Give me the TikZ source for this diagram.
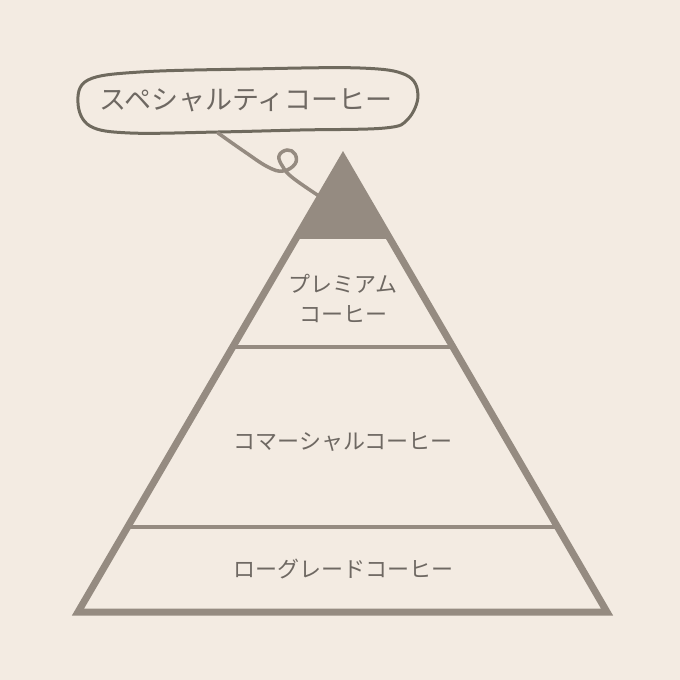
\documentclass[tikz,border=0pt]{standalone}
\usepackage{fontspec}
\usepackage{xcolor}
\usetikzlibrary{positioning, calc}
\newfontfamily\jpfont{Noto Sans CJK JP}
\definecolor{paper}{HTML}{F3EBE2}
\definecolor{stone}{HTML}{958B81}
\definecolor{ink}{HTML}{6E6862}
\definecolor{pen}{HTML}{6F6A5E}

\begin{document}
\begin{tikzpicture}[x=1pt, y=-1pt,
    layer/.style={text=ink, font=\jpfont\fontsize{22}{30}\selectfont, align=center},
    bubble/.style={text=ink, font=\jpfont\fontsize{27}{30}\selectfont}]
\useasboundingbox[fill=paper] (0,0) rectangle (680,680);

% Pyramid
\coordinate (apex) at (343,158);
\coordinate (bl) at (78,612);
\coordinate (br) at (607,612);
\fill[stone] (apex) -- (296,237) -- (390,237) -- cycle;
\draw[stone, line width=7pt, line join=miter] (apex) -- (br) -- (bl) -- cycle;
\draw[stone, line width=4pt] (296,237) -- (390,237);
\draw[stone, line width=4pt] (232,347) -- (454,347);
\draw[stone, line width=4pt] (127.5,527) -- (558.5,527);

% Layers
\node[layer] (premium) at (343,298) {プレミアム\\コーヒー};
\node[layer] (commercial) at (343,442) {コマーシャルコーヒー};
\node[layer] (lowgrade) at (343,569) {ローグレードコーヒー};

% Speech bubble
\node[bubble] (special) at (246,100) {スペシャルティコーヒー};
\draw[pen, line width=3pt] plot[smooth cycle, tension=0.6] coordinates {
    (78,103) (88,80) (140,72) (250,69) (360,68) (406,75) (418,95)
    (408,119) (385,128) (300,130) (218,132) (130,133) (90,126)};

% Tail
\coordinate (tip) at (319,196);
\draw[stone, line width=3.5pt, line cap=round] plot[smooth, tension=0.7] coordinates {
    (218,133) (245,152) (268,167) (283,171) (295,164) (295,154)
    (287,150) (279,156) (283,167) (293,178) (tip)};
\end{tikzpicture}
\end{document}
